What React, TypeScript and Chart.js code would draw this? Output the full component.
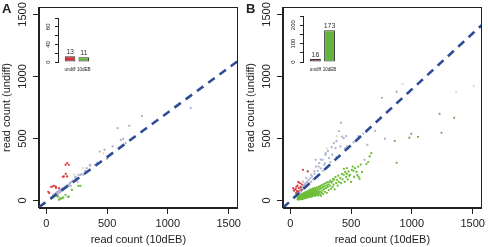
import React, { useEffect, useRef } from "react";
import { Chart, registerables } from "chart.js";
Chart.register(...registerables);

const FONT = "'Liberation Sans', Arial, Helvetica, sans-serif";
const INK = "#222222";

// main axes
const axisTicks = [0, 500, 1000, 1500];
const xTitle = "read count (10dEB)";
const yTitle = "read count (undiff)";

// panel A points [10dEB, undiff]
const aGrey = [
  [50, 30], [55, 35], [58, 42], [60, 45], [62, 38], [65, 40], [68, 52], [70, 50], [72, 42], [75, 55],
  [78, 48], [80, 60], [82, 52], [85, 58], [88, 65], [90, 55], [92, 70], [95, 62], [98, 68], [100, 75],
  [102, 60], [105, 72], [108, 80], [110, 66], [112, 78], [115, 85], [118, 70], [120, 88], [122, 76],
  [125, 92], [128, 82], [130, 95], [135, 88], [138, 100], [140, 92], [145, 105], [150, 98], [155, 112],
  [160, 105], [165, 118], [170, 110], [175, 125], [180, 118], [185, 130], [190, 122], [195, 140],
  [201, 119], [205, 150], [211, 153], [220, 160], [225, 148], [238, 180], [241, 191], [245, 185],
  [257, 151], [265, 207], [280, 205], [290, 215], [305, 207], [320, 240], [332, 261], [345, 239],
  [359, 288], [361, 280], [399, 288], [417, 304], [439, 395], [479, 409], [498, 336], [506, 342],
  [546, 436], [586, 584], [613, 489], [634, 497], [653, 463], [682, 602], [787, 682], [1188, 746],
];
const aRed = [
  [24, 60], [51, 113], [78, 113], [104, 100], [131, 86], [144, 194], [158, 288], [160, 215],
  [171, 194], [171, 302], [185, 288], [136, 191], [64, 119], [40, 111], [16, 70], [80, 102],
];
const aGreen = [
  [91, 32], [104, 6], [120, 14], [131, 19], [158, 46], [177, 30], [185, 32], [211, 86],
  [265, 118], [281, 119], [96, 38], [140, 25], [110, 20],
];
const aPale = [[230, 210], [470, 380], [300, 262]];
const aOlive: number[][] = [];
const aFit = [[-60, -53], [1575, 1124]];

// panel B points
const bGrey = [
  [50, 45], [55, 55], [58, 40], [62, 60], [65, 50], [68, 68], [70, 55], [72, 75], [75, 62], [78, 80],
  [80, 66], [82, 88], [85, 72], [88, 92], [90, 78], [92, 100], [95, 84], [98, 105], [100, 88],
  [104, 112], [104, 153], [108, 95], [110, 120], [114, 102], [118, 113], [118, 128], [122, 108],
  [126, 140], [131, 180], [132, 118], [138, 150], [144, 128], [150, 165], [158, 140], [165, 180],
  [171, 207], [172, 152], [180, 195], [190, 170], [198, 234], [200, 215], [209, 328], [211, 274],
  [215, 190], [225, 240], [233, 274], [238, 302], [240, 210], [250, 260], [250, 330], [265, 328],
  [270, 240], [279, 288], [285, 300], [289, 369], [292, 382], [300, 270], [310, 400], [319, 342],
  [330, 310], [340, 430], [345, 369], [359, 463], [372, 423], [380, 350], [380, 480], [400, 560],
  [412, 436], [417, 627], [425, 516], [439, 503], [450, 420], [460, 520], [465, 436], [520, 470],
  [560, 520], [600, 540], [610, 328], [634, 449], [698, 562], [754, 828], [778, 498], [875, 877],
];
const bRed = [
  [24, 100], [37, 86], [51, 113], [64, 73], [78, 140], [91, 86], [104, 248], [144, 234], [60, 120],
  [45, 95], [85, 110], [70, 100], [55, 75], [95, 130], [30, 80], [66, 150], [48, 60], [120, 105],
];
const bGreen = [
  [60, 10], [62, 22], [64, 15], [66, 30], [68, 8], [70, 18], [72, 35], [73, 12], [75, 26], [77, 20],
  [78, 40], [80, 14], [82, 28], [83, 32], [85, 45], [86, 10], [88, 28], [89, 20], [90, 38], [92, 24],
  [93, 15], [95, 50], [96, 30], [97, 34], [99, 12], [100, 42], [102, 28], [103, 20], [104, 55],
  [106, 36], [107, 16], [108, 46], [110, 30], [111, 22], [112, 60], [114, 18], [115, 40], [117, 28],
  [118, 52], [120, 34], [121, 20], [122, 65], [124, 26], [125, 45], [127, 38], [128, 58], [130, 22],
  [131, 38], [132, 70], [134, 30], [135, 50], [137, 44], [138, 62], [140, 24], [141, 42], [142, 74],
  [144, 34], [145, 55], [147, 48], [148, 66], [150, 28], [151, 46], [153, 80], [154, 38], [156, 58],
  [157, 30], [158, 70], [160, 50], [162, 42], [163, 85], [165, 34], [166, 62], [168, 75], [170, 55],
  [171, 40], [174, 90], [175, 30], [177, 66], [179, 48], [180, 80], [182, 36], [183, 60], [186, 95],
  [188, 52], [190, 72], [192, 40], [193, 86], [196, 64], [198, 45], [200, 100], [202, 58], [204, 78],
  [206, 38], [208, 92], [210, 55], [212, 70], [214, 44], [216, 106], [218, 62], [220, 84], [222, 48],
  [225, 98], [228, 58], [230, 76], [232, 40], [235, 112], [238, 66], [240, 90], [243, 50], [245, 104],
  [248, 72], [250, 118], [252, 38], [255, 96], [258, 60], [262, 125], [265, 80], [268, 108], [270, 52],
  [275, 132], [278, 92], [282, 115], [285, 70], [290, 140], [294, 100], [298, 122], [300, 62],
  [305, 148], [308, 110], [312, 130], [316, 84], [321, 148], [325, 120], [330, 160], [335, 96],
  [340, 145], [345, 153], [348, 110], [352, 175], [356, 128], [360, 168], [365, 90], [372, 190],
  [378, 140], [385, 167], [390, 120], [395, 200], [400, 150], [412, 180], [418, 140], [425, 215],
  [430, 170], [439, 207], [441, 256], [448, 150], [452, 230], [460, 190], [465, 215], [465, 261],
  [472, 170], [479, 234], [485, 200], [492, 207], [500, 150], [506, 248], [514, 274], [520, 240],
  [525, 190], [533, 261], [545, 230], [552, 205], [559, 274], [562, 191], [570, 175], [580, 290],
  [590, 230], [626, 294], [640, 310], [653, 355], [666, 382],
];
const bPale = [[923, 941], [1364, 877], [1509, 925], [380, 520], [300, 420]];
const bOlive = [
  [859, 481], [875, 304], [979, 506], [995, 538], [1051, 514], [1228, 699], [1244, 546], [1348, 667],
];
const bFit = [[-60, -58], [1575, 1414]];

// insets
const insetGroups = ["undiff", "10dEB"];
const insetA = [13, 11];
const insetB = [16, 173];
const insetATicks = [0, 20, 40, 60, 80, 100];
const insetALabels = [0, 40, 80];
const insetBTicks = [0, 50, 100, 150, 200, 250];
const insetBLabels = [0, 100, 200];

const COLORS = {
  grey: "#acb2cc",
  pale: "#e4dcb2",
  olive: "#8fa35a",
  red: "#dc4044",
  green: "#6cbd38",
  fit: "#2e4d96",
  barRed: "#d4303a",
  barGreen: "#63b43c",
};

const framePlugin = {
  id: "frame",
  afterDraw(chart: any) {
    const { ctx, chartArea: a } = chart;
    ctx.save();
    ctx.strokeStyle = INK;
    ctx.lineWidth = 1;
    const l = Math.round(a.left) - 0.5;
    const t = Math.round(a.top) + 0.5;
    const r = Math.round(a.right) - 0.5;
    const b = Math.round(a.bottom) - 0.5;
    ctx.strokeRect(l, t, r - l, b - t);
    ctx.restore();
  },
};

const rotTicksPlugin = {
  id: "rotTicks",
  afterDraw(chart: any, _args: any, opts: any) {
    if (!opts || !opts.labels) return;
    const { ctx } = chart;
    const s = chart.scales.y;
    ctx.save();
    ctx.fillStyle = INK;
    ctx.font = `${opts.size}px ${FONT}`;
    ctx.textAlign = "center";
    ctx.textBaseline = "middle";
    for (const v of opts.labels) {
      const y = s.getPixelForValue(v);
      ctx.save();
      ctx.translate(chart.chartArea.left - opts.dx, y);
      ctx.rotate(-Math.PI / 2);
      ctx.fillText(String(v), 0, 0);
      ctx.restore();
    }
    if (opts.letter) {
      ctx.font = `bold 13px ${FONT}`;
      ctx.textAlign = "left";
      ctx.textBaseline = "alphabetic";
      ctx.fillText(opts.letter, 2, 13);
    }
    ctx.restore();
  },
};

const barValuePlugin = {
  id: "barValues",
  afterDatasetsDraw(chart: any) {
    const { ctx } = chart;
    const meta = chart.getDatasetMeta(0);
    const ds = chart.data.datasets[0];
    ctx.save();
    ctx.fillStyle = "#333";
    ctx.font = `7px ${FONT}`;
    ctx.textAlign = "center";
    ctx.textBaseline = "bottom";
    meta.data.forEach((bar: any, i: number) => {
      ctx.fillText(String(ds.data[i].y), bar.x, bar.y - 0.5);
    });
    ctx.restore();
  },
};

const pts = (arr: number[][], color: string, order: number) => ({
  type: "scatter" as const,
  data: arr.map(([x, y]) => ({ x, y })),
  backgroundColor: color,
  borderWidth: 0,
  pointRadius: 1.15,
  pointHoverRadius: 0,
  order,
});

function Panel(props: {
  left: number;
  letter: string;
  grey: number[][];
  pale: number[][];
  olive: number[][];
  red: number[][];
  green: number[][];
  fit: number[][];
}) {
  const ref = useRef<HTMLCanvasElement>(null);
  useEffect(() => {
    const axisFont = { family: FONT, size: 11 };
    const chart = new Chart(ref.current!, {
      type: "scatter",
      data: {
        datasets: [
          {
            type: "line",
            data: props.fit.map(([x, y]) => ({ x, y })),
            borderColor: COLORS.fit,
            borderWidth: 2.6,
            borderDash: [8, 6],
            pointRadius: 0,
            fill: false,
            order: 0,
          } as any,
          pts(props.green, COLORS.green, 1),
          pts(props.red, COLORS.red, 2),
          pts(props.olive, COLORS.olive, 3),
          pts(props.pale, COLORS.pale, 4),
          pts(props.grey, COLORS.grey, 5),
        ],
      },
      options: {
        animation: false,
        responsive: false,
        devicePixelRatio: 1,
        events: [],
        layout: { padding: { top: 7, right: 3, left: 0, bottom: 0 } },
        plugins: {
          legend: { display: false },
          tooltip: { enabled: false },
          rotTicks: { labels: axisTicks, dx: 16, size: 11, letter: props.letter },
        } as any,
        scales: {
          x: {
            type: "linear",
            min: -60,
            max: 1575,
            afterBuildTicks: (s: any) => {
              s.ticks = axisTicks.map((v) => ({ value: v }));
            },
            afterFit: (s: any) => {
              s.height = 39;
            },
            grid: { display: true, drawOnChartArea: false, drawTicks: true, tickLength: 6, color: INK, lineWidth: 1 },
            border: { display: true, color: INK, width: 1 },
            ticks: { font: axisFont, color: INK, padding: 3, maxRotation: 0, autoSkip: false, callback: (v: any) => String(v) },
            title: { display: true, text: xTitle, font: axisFont, color: INK, padding: 0 },
          },
          y: {
            type: "linear",
            min: -60,
            max: 1560,
            afterBuildTicks: (s: any) => {
              s.ticks = axisTicks.map((v) => ({ value: v }));
            },
            afterFit: (s: any) => {
              s.width = 39;
            },
            grid: { display: true, drawOnChartArea: false, drawTicks: true, tickLength: 6, color: INK, lineWidth: 1 },
            border: { display: true, color: INK, width: 1 },
            ticks: { display: false },
            title: { display: true, text: yTitle, font: axisFont, color: INK, padding: 0 },
          },
        },
      },
      plugins: [framePlugin, rotTicksPlugin],
    });
    return () => chart.destroy();
  }, []);
  return (
    <canvas
      ref={ref}
      width={244}
      height={247}
      style={{ position: "absolute", left: props.left, top: 0, width: 244, height: 247 }}
    />
  );
}

function Inset(props: {
  left: number;
  top: number;
  values: number[];
  ticks: number[];
  labels: number[];
  axisW: number;
  padTop: number;
  padRight: number;
}) {
  const ref = useRef<HTMLCanvasElement>(null);
  useEffect(() => {
    const yMax = props.ticks[props.ticks.length - 1];
    const chart = new Chart(ref.current!, {
      type: "bar",
      data: {
        datasets: [
          {
            data: insetGroups.map((_, i) => ({ x: i + 1, y: props.values[i] })),
            backgroundColor: [COLORS.barRed, COLORS.barGreen],
            borderColor: "#333",
            borderWidth: 1,
            borderSkipped: false,
            barPercentage: 0.77,
            categoryPercentage: 1,
          } as any,
        ],
      },
      options: {
        animation: false,
        responsive: false,
        devicePixelRatio: 1,
        events: [],
        layout: { padding: { top: props.padTop, right: props.padRight, left: 0, bottom: 0 } },
        plugins: {
          legend: { display: false },
          tooltip: { enabled: false },
          rotTicks: { labels: props.labels, dx: 9.5, size: 6 },
        } as any,
        scales: {
          x: {
            type: "linear",
            offset: false,
            min: 0.12,
            max: 2.6,
            afterBuildTicks: (s: any) => {
              s.ticks = insetGroups.map((_, i) => ({ value: i + 1 }));
            },
            afterFit: (s: any) => {
              s.height = 16;
              s.paddingLeft = 0;
              s.paddingRight = 0;
            },
            grid: { display: false, drawTicks: false },
            border: { display: false },
            ticks: {
              font: { family: FONT, size: 4.6 },
              color: INK,
              padding: 5,
              autoSkip: false,
              maxRotation: 0,
              callback: (v: any) => insetGroups[Math.round(v) - 1],
            },
          },
          y: {
            type: "linear",
            min: 0,
            max: yMax,
            afterBuildTicks: (s: any) => {
              s.ticks = props.ticks.map((v) => ({ value: v }));
            },
            afterFit: (s: any) => {
              s.width = props.axisW;
              s.paddingTop = 0;
              s.paddingBottom = 0;
            },
            grid: { display: true, drawOnChartArea: false, drawTicks: true, tickLength: 3, color: INK },
            border: { display: true, color: INK, width: 1 },
            ticks: { display: false },
          },
        },
      },
      plugins: [barValuePlugin, rotTicksPlugin],
    });
    return () => chart.destroy();
  }, []);
  return (
    <canvas
      ref={ref}
      width={60}
      height={70}
      style={{ position: "absolute", left: props.left, top: props.top, width: 60, height: 70 }}
    />
  );
}

export default function App() {
  return (
    <div style={{ position: "absolute", left: 0, top: 0, width: 488, height: 247, background: "#fff", overflow: "hidden" }}>
      <Panel left={0} letter="A" grey={aGrey} pale={aPale} olive={aOlive} red={aRed} green={aGreen} fit={aFit} />
      <Panel left={244} letter="B" grey={bGrey} pale={bPale} olive={bOlive} red={bRed} green={bGreen} fit={bFit} />
      <Inset left={40} top={8} values={insetA} ticks={insetATicks} labels={insetALabels} axisW={18} padTop={10} padRight={8} />
      <Inset left={284} top={8} values={insetB} ticks={insetBTicks} labels={insetBLabels} axisW={19} padTop={8} padRight={6} />
    </div>
  );
}
